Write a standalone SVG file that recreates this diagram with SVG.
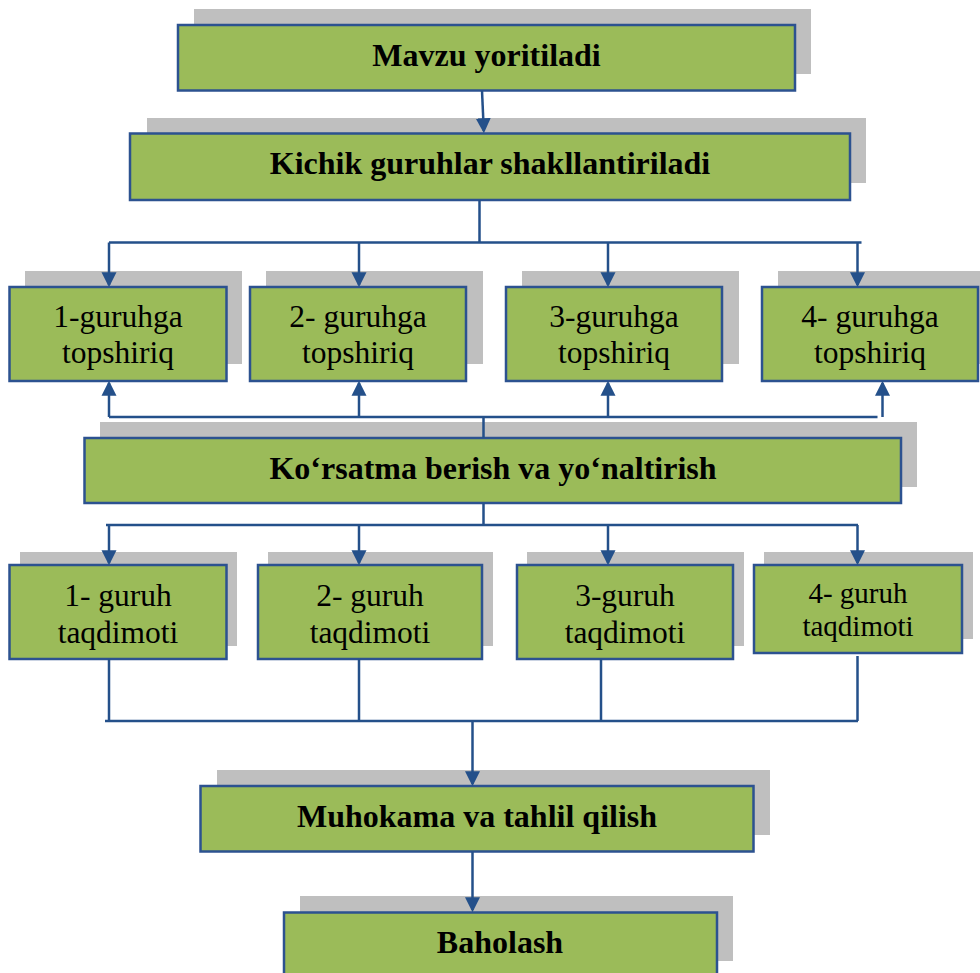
<svg xmlns="http://www.w3.org/2000/svg" width="980" height="973" viewBox="0 0 980 973">
<style>
.sh{fill:#BFBFBF;}
.bx{fill:#9BBB59;stroke:#2C5290;stroke-width:2.5;}
.tb{font-family:"Liberation Serif","Times New Roman",serif;font-weight:bold;font-size:32px;fill:#000;text-anchor:middle;}
.tr{font-family:"Liberation Serif","Times New Roman",serif;font-size:31.5px;fill:#000;text-anchor:middle;}
.cn{fill:none;stroke:#24508A;stroke-width:2.5;}
</style>
<defs>
<marker id="ah" viewBox="0 0 10 10" refX="8.5" refY="5" markerWidth="15" markerHeight="16" markerUnits="userSpaceOnUse" orient="auto">
<path d="M0,0 L10,5 L0,10 z" fill="#24508A"/>
</marker>
</defs>
<rect width="980" height="973" fill="#fff"/>
<g id="n-mavzu">
<rect class="sh" x="194" y="9" width="617" height="65"/>
<rect class="bx" x="178" y="25" width="617" height="65.5"/>
<text class="tb" x="486.5" y="66">Mavzu yoritiladi</text>
</g>
<g id="n-kichik">
<rect class="sh" x="147" y="118" width="719" height="65"/>
<rect class="bx" x="130" y="133.5" width="720" height="66.5"/>
<text class="tb" x="490" y="174">Kichik guruhlar shakllantiriladi</text>
</g>
<g id="n-t1">
<rect class="sh" x="25" y="271" width="217" height="93"/>
<rect class="bx" x="9.5" y="287" width="217" height="94"/>
<text class="tr" x="118" y="327">1-guruhga</text>
<text class="tr" x="118" y="363">topshiriq</text>
</g>
<g id="n-t2">
<rect class="sh" x="266" y="271" width="217" height="93"/>
<rect class="bx" x="250" y="287" width="216" height="94"/>
<text class="tr" x="358" y="327">2- guruhga</text>
<text class="tr" x="358" y="363">topshiriq</text>
</g>
<g id="n-t3">
<rect class="sh" x="522" y="271" width="217" height="93"/>
<rect class="bx" x="506" y="287" width="216" height="94"/>
<text class="tr" x="614" y="327">3-guruhga</text>
<text class="tr" x="614" y="363">topshiriq</text>
</g>
<g id="n-t4">
<rect class="sh" x="778" y="271" width="217" height="93"/>
<rect class="bx" x="762" y="287" width="216" height="94"/>
<text class="tr" x="870" y="327">4- guruhga</text>
<text class="tr" x="870" y="363">topshiriq</text>
</g>
<g id="n-korsatma">
<rect class="sh" x="100" y="422" width="817" height="65"/>
<rect class="bx" x="84.5" y="438" width="816.5" height="65"/>
<text class="tb" x="493" y="479">Ko‘rsatma berish va yo‘naltirish</text>
</g>
<g id="n-q1">
<rect class="sh" x="20" y="552" width="217" height="94"/>
<rect class="bx" x="9.5" y="565" width="217" height="94"/>
<text class="tr" x="118" y="606">1- guruh</text>
<text class="tr" x="118" y="643">taqdimoti</text>
</g>
<g id="n-q2">
<rect class="sh" x="268" y="552" width="225" height="94"/>
<rect class="bx" x="258" y="565" width="224" height="94"/>
<text class="tr" x="370" y="606">2- guruh</text>
<text class="tr" x="370" y="643">taqdimoti</text>
</g>
<g id="n-q3">
<rect class="sh" x="527" y="552" width="217" height="94"/>
<rect class="bx" x="517" y="565" width="216" height="94"/>
<text class="tr" x="625" y="606">3-guruh</text>
<text class="tr" x="625" y="643">taqdimoti</text>
</g>
<g id="n-q4">
<rect class="sh" x="764" y="552" width="209" height="87"/>
<rect class="bx" x="754" y="565" width="208" height="88"/>
<text class="tr" x="858" y="603" style="font-size:29px">4- guruh</text>
<text class="tr" x="858" y="636" style="font-size:29px">taqdimoti</text>
</g>
<g id="n-muhokama">
<rect class="sh" x="217" y="770" width="553" height="65"/>
<rect class="bx" x="200.5" y="786" width="553" height="65.5"/>
<text class="tb" x="477" y="827">Muhokama va tahlil qilish</text>
</g>
<g id="n-baholash">
<rect class="sh" x="300" y="896" width="433" height="65"/>
<rect class="bx" x="284" y="912.5" width="433" height="70"/>
<text class="tb" x="500" y="953">Baholash</text>
</g>
<g id="connectors">
<path class="cn" d="M482,90.7 L483.8,131" marker-end="url(#ah)"/>
<path class="cn" d="M479.5,200 V242.5 M109,242.5 H861.5"/>
<path class="cn" d="M109,242.5 V285" marker-end="url(#ah)"/>
<path class="cn" d="M359,242.5 V285" marker-end="url(#ah)"/>
<path class="cn" d="M608,242.5 V285" marker-end="url(#ah)"/>
<path class="cn" d="M857.5,242.5 V285" marker-end="url(#ah)"/>
<path class="cn" d="M109,417 H877.5 M483.5,417 V438"/>
<path class="cn" d="M109,417 V383" marker-end="url(#ah)"/>
<path class="cn" d="M359,417 V383" marker-end="url(#ah)"/>
<path class="cn" d="M608,417 V383" marker-end="url(#ah)"/>
<path class="cn" d="M882.5,417 V383" marker-end="url(#ah)"/>
<path class="cn" d="M483.5,503 V525 M106,525 H858"/>
<path class="cn" d="M109,525 V563" marker-end="url(#ah)"/>
<path class="cn" d="M359,525 V563" marker-end="url(#ah)"/>
<path class="cn" d="M608,525 V563" marker-end="url(#ah)"/>
<path class="cn" d="M857.5,525 V563" marker-end="url(#ah)"/>
<path class="cn" d="M109,659 V721 M359,659 V721 M601,659 V721 M857.5,656 V721 M105,721 H858"/>
<path class="cn" d="M472.5,721 V784" marker-end="url(#ah)"/>
<path class="cn" d="M472.5,851.5 V910" marker-end="url(#ah)"/>
</g>
</svg>
